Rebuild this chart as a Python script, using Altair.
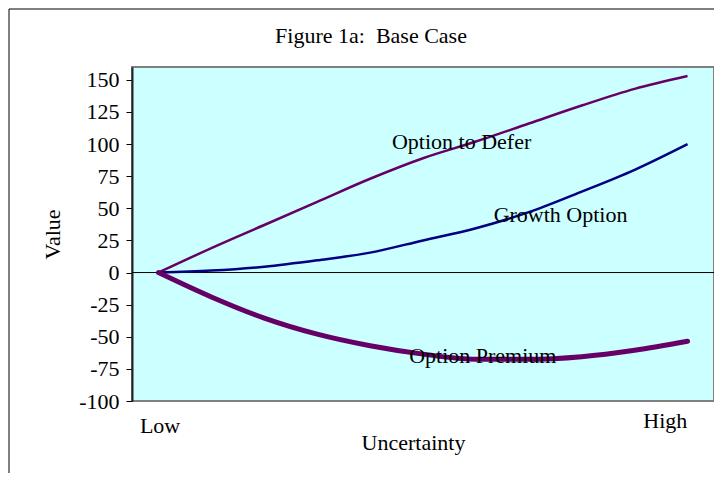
import altair as alt
import pandas as pd

# ---- data ----
idx = list(range(11))  # Low ... High (11 category points)
defer = [0, 19, 37, 55, 73, 89, 102, 116, 130, 143, 153]
growth = [0, 1.5, 4.5, 9.5, 15.5, 25, 34.5, 47, 63, 80, 100]
premium = [0, -19, -35.5, -48, -57, -63.5, -67.5, -67.5, -65.5, -60.5, -53.5]

series_names = ["Option to Defer", "Growth Option", "Option Premium"]
label_x = [5.73, 7.6, 6.13]
label_y = [102, 45, -65]

cat_labels = ["Low", "High"]
cat_x = [0.03, 9.58]
cat_y_px = [366, 361]

y_ticks = list(range(-100, 151, 25))

FONT = "Liberation Serif"
FS = 22
PURPLE = "#660066"
NAVY = "#000080"

W, H = 582, 334

df = pd.DataFrame({"i": idx, "defer": defer, "growth": growth, "premium": premium})
lab = pd.DataFrame({"name": series_names, "x": label_x, "y": label_y})
cats = pd.DataFrame({"name": cat_labels, "x": cat_x, "py": cat_y_px})

xscale = alt.Scale(domain=[-0.5, 10.5], nice=False, zero=False)
yscale = alt.Scale(domain=[-100, 160], nice=False, zero=False)

xax = alt.Axis(
    title="Uncertainty", labels=False, ticks=False, domain=False, grid=False,
    titleFont=FONT, titleFontSize=FS, titleFontWeight="normal", titleColor="black",
    titleX=281, titlePadding=31,
)
yax = alt.Axis(
    title="Value", values=y_ticks, grid=False, labelOverlap=False,
    labelExpr="'' + datum.value",
    labelFont=FONT, labelFontSize=FS, labelColor="black", labelPadding=7,
    tickColor="black", tickSize=6, domainColor="#222222", domainWidth=2,
    titleFont=FONT, titleFontSize=FS, titleFontWeight="normal", titleColor="black",
    titleX=-80, titleY=H / 2, titleAngle=270, titleBaseline="middle", titleAlign="center",
)

base = alt.Chart(df)

zero = alt.Chart(pd.DataFrame({"z": [0]})).mark_rule(color="black", strokeWidth=1).encode(
    y=alt.Y("z:Q", scale=yscale, axis=yax)
)

l_defer = base.mark_line(color=PURPLE, strokeWidth=2.5, interpolate="monotone").encode(
    x=alt.X("i:Q", scale=xscale, axis=xax), y=alt.Y("defer:Q", scale=yscale, axis=yax)
)
l_growth = base.mark_line(color=NAVY, strokeWidth=2.5, interpolate="monotone").encode(
    x=alt.X("i:Q", scale=xscale, axis=xax), y=alt.Y("growth:Q", scale=yscale, axis=yax)
)
l_prem = base.mark_line(color=PURPLE, strokeWidth=5, strokeCap="round", interpolate="monotone").encode(
    x=alt.X("i:Q", scale=xscale, axis=xax), y=alt.Y("premium:Q", scale=yscale, axis=yax)
)

texts = alt.Chart(lab).mark_text(font=FONT, fontSize=FS, color="black", baseline="middle").encode(
    x=alt.X("x:Q", scale=xscale, axis=xax), y=alt.Y("y:Q", scale=yscale, axis=yax), text="name:N"
)

cat_text = alt.Chart(cats).mark_text(font=FONT, fontSize=FS, color="black", baseline="alphabetic").encode(
    x=alt.X("x:Q", scale=xscale, axis=xax), y=alt.Y("py:Q", scale=None), text="name:N"
)

# outer figure frame (left and top edges visible in the reference)
frame_left = alt.Chart(pd.DataFrame({"k": [0]})).mark_rule(color="black", strokeWidth=1).encode(
    x=alt.value(-123), y=alt.value(-58), y2=alt.value(420)
)
frame_top = alt.Chart(pd.DataFrame({"k": [0]})).mark_rule(color="black", strokeWidth=1).encode(
    x=alt.value(-123), x2=alt.value(600), y=alt.value(-58)
)

chart = alt.layer(
    zero, l_defer, l_growth, l_prem, texts, cat_text, frame_left, frame_top
).properties(
    width=W, height=H,
    title=alt.Title(
        "Figure 1a:\u00a0 Base Case", font=FONT, fontSize=FS, fontWeight="normal", color="black",
        anchor="middle", frame="group", dx=-52, offset=0, dy=56, baseline="alphabetic",
    ),
    autosize=alt.AutoSizeParams(type="none"),
    padding={"left": 124, "top": 59, "right": 0, "bottom": 72},
).configure(
    background="white"
).configure_view(
    fill="#CCFFFF", stroke="#808080", strokeWidth=2
)

chart.save("out.html", embed_options={"renderer": "svg", "actions": False})
